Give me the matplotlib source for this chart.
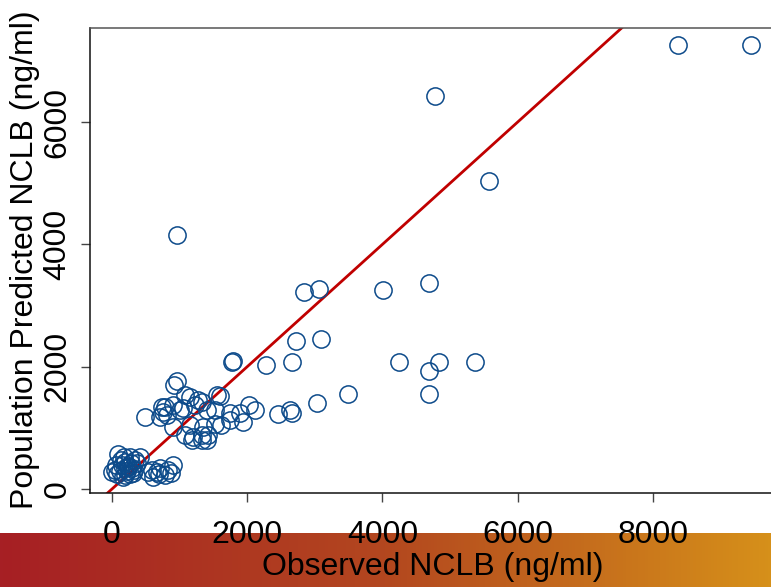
import numpy as np
import matplotlib
matplotlib.use("Agg")
import matplotlib.pyplot as plt
from matplotlib.colors import LinearSegmentedColormap

plt.rcParams['font.family'] = ['Liberation Sans', 'DejaVu Sans']

observed = [8370, 9450, 4780, 5580, 960, 2840, 3060, 4010, 4690, 2720, 3090,
            1775, 1790, 2280, 2660, 4250, 4840, 4690, 5370, 4690, 3490, 3030, 2630, 2460, 2660,
            2120, 2020, 1890, 1940, 1750, 1600,
            960, 920, 1560, 1080, 1150, 1270, 1330, 490, 735, 785, 710, 810, 1055, 1230, 1400,
            1520, 1520, 907, 1080, 1180, 1330, 1400, 1350, 1150, 1200, 1330, 1420, 1620, 1750,
            900, 1000, 760,
            90, 0, 40, 270, 410, 365, 315, 165, 540, 660, 710, 830, 900, 780, 610, 190, 240,
            190, 120, 150, 220, 260, 300, 80, 130, 200, 330, 280, 340, 180, 60, 230, 880, 700, 590]
predicted = [7260, 7260, 6430, 5040, 4150, 3220, 3270, 3250, 3370, 2420, 2450,
             2070, 2090, 2030, 2070, 2070, 2070, 1935, 2080, 1555, 1555, 1400, 1300, 1220, 1240,
             1300, 1370, 1250, 1100, 1250, 1520,
             1770, 1700, 1540, 1540, 1500, 1450, 1430, 1180, 1345, 1345, 1180, 1210, 1320, 1370, 1290,
             1290, 1070, 1020, 880, 800, 880, 800, 1020, 1050, 855, 800, 880, 1050, 1130,
             1380, 1300, 1260,
             580, 280, 310, 530, 530, 420, 260, 200, 280, 280, 340, 310, 390, 230, 200, 445, 365,
             340, 300, 400, 300, 250, 350, 250, 480, 230, 310, 420, 470, 520, 400, 380, 260, 250, 310]

xticks = [0, 2000, 4000, 6000, 8000]
yticks = [0, 2000, 4000, 6000]

W, H = 771, 587
fig = plt.figure(figsize=(W / 100, H / 100), dpi=100)

# gradient band at the bottom
gax = fig.add_axes([0, 0, 1, 54 / H], zorder=0)
cmap = LinearSegmentedColormap.from_list('band', ['#a61f24', '#b3471f', '#d6901a'])
gax.imshow(np.linspace(0, 1, 256)[None, :], aspect='auto', cmap=cmap,
           extent=[0, 1, 0, 1])
gax.set_axis_off()

left = 90 / W
bottom = 1 - 493 / H
top = 1 - 28 / H
right = 773 / W
ax = fig.add_axes([left, bottom, right - left, top - bottom], zorder=1)
ax.patch.set_alpha(0)

ax.set_xlim(-325, 9778)
ax.set_ylim(-65, 7539)

ax.axline((0, 0), slope=1, color='#c00000', lw=2.0, zorder=2)
ax.plot(observed, predicted, 'o', mfc='none', mec='#0c4a8a', ms=12.4, mew=1.1,
        ls='none', zorder=3)

ax.set_xticks(xticks)
ax.set_yticks(yticks)
ax.tick_params(axis='both', direction='out', length=6.5, width=1, color='#444444',
               labelsize=23)
ax.tick_params(axis='x', pad=13)
ax.tick_params(axis='y', pad=6, labelrotation=90)
for lab in ax.get_yticklabels():
    lab.set_va('center')

for s in ['left', 'bottom']:
    ax.spines[s].set_color('#111111')
    ax.spines[s].set_linewidth(1.1)
ax.spines['top'].set_color('#555555')
ax.spines['top'].set_linewidth(1.1)
ax.spines['right'].set_visible(False)

ax.set_xlabel('Observed NCLB (ng/ml)', fontsize=23)
ax.xaxis.set_label_coords(433 / W, 20 / H, transform=fig.transFigure)
ax.xaxis.label.set_va('center')
ax.set_ylabel('Population Predicted NCLB (ng/ml)', fontsize=23)
ax.yaxis.set_label_coords(25 / W, 1 - 260 / H, transform=fig.transFigure)
ax.yaxis.label.set_va('center')

fig.savefig('out.png', dpi=100)
